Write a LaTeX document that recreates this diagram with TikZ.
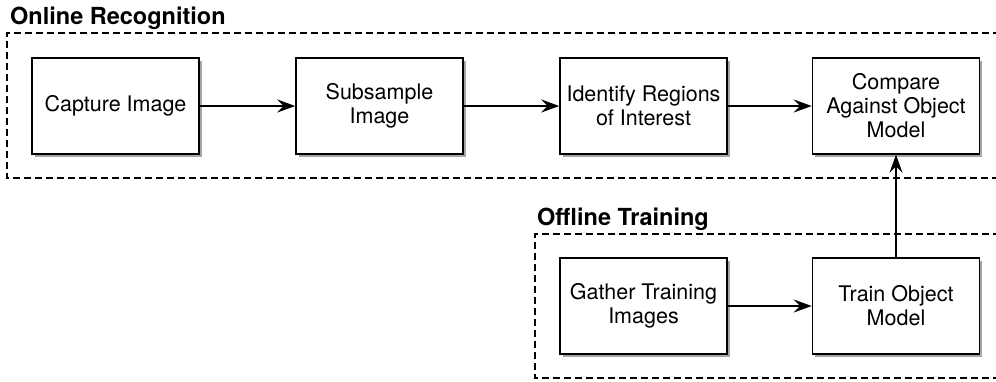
\documentclass[tikz,border=0pt]{standalone}
\usepackage{fontspec}
\setmainfont{TeX Gyre Heros}
\usetikzlibrary{arrows.meta,shadows}
\begin{document}
\begin{tikzpicture}[x=1pt,y=-1pt,
  procbox/.style={draw=black, line width=1.6pt, fill=white, minimum width=167pt, minimum height=96pt, align=center, inner sep=2pt,
    font=\fontsize{21.5}{24}\selectfont,
    drop shadow={shadow xshift=2.5pt, shadow yshift=-2.5pt, fill=black, opacity=0.35}},
  flow/.style={line width=1.6pt, -{Stealth[length=18pt,width=13pt,inset=6.5pt]}},
  groupline/.style={line width=1.1pt, dash pattern=on 7pt off 4pt},
  grouptitle/.style={anchor=base west, inner sep=0pt, font=\fontsize{23.5}{26}\selectfont\bfseries}
]
\useasboundingbox (0,0) rectangle (996,381);
% group frames
\coordinate (onTR) at (1000,33);
\coordinate (onTL) at (7,33);
\coordinate (onBL) at (7,178);
\coordinate (onBR) at (1000,178);
\draw[groupline] (onTR) -- (onTL) -- (onBL) -- (onBR);
\coordinate (offTR) at (1000,234);
\coordinate (offTL) at (535,234);
\coordinate (offBL) at (535,378);
\coordinate (offBR) at (1000,378);
\draw[groupline] (offTR) -- (offTL) -- (offBL) -- (offBR);
\node[grouptitle] (ontitle) at (10,24) {Online Recognition};
\node[grouptitle] (offtitle) at (537,225) {Offline Training};
% boxes
\node[procbox] (capture) at (115.5,106) {Capture Image};
\node[procbox] (subsample) at (379.5,106) {Subsample\\Image};
\node[procbox] (identify) at (643.5,106) {Identify Regions\\of Interest};
\node[procbox] (compare) at (896,106) {Compare\\Against Object\\Model};
\node[procbox] (gather) at (643.5,306) {Gather Training\\Images};
\node[procbox] (train) at (896,306) {Train Object\\Model};
% arrows
\draw[flow] (capture) -- (subsample);
\draw[flow] (subsample) -- (identify);
\draw[flow] (identify) -- (compare);
\draw[flow] (gather) -- (train);
\draw[flow] (train) -- (compare);
\end{tikzpicture}
\end{document}
